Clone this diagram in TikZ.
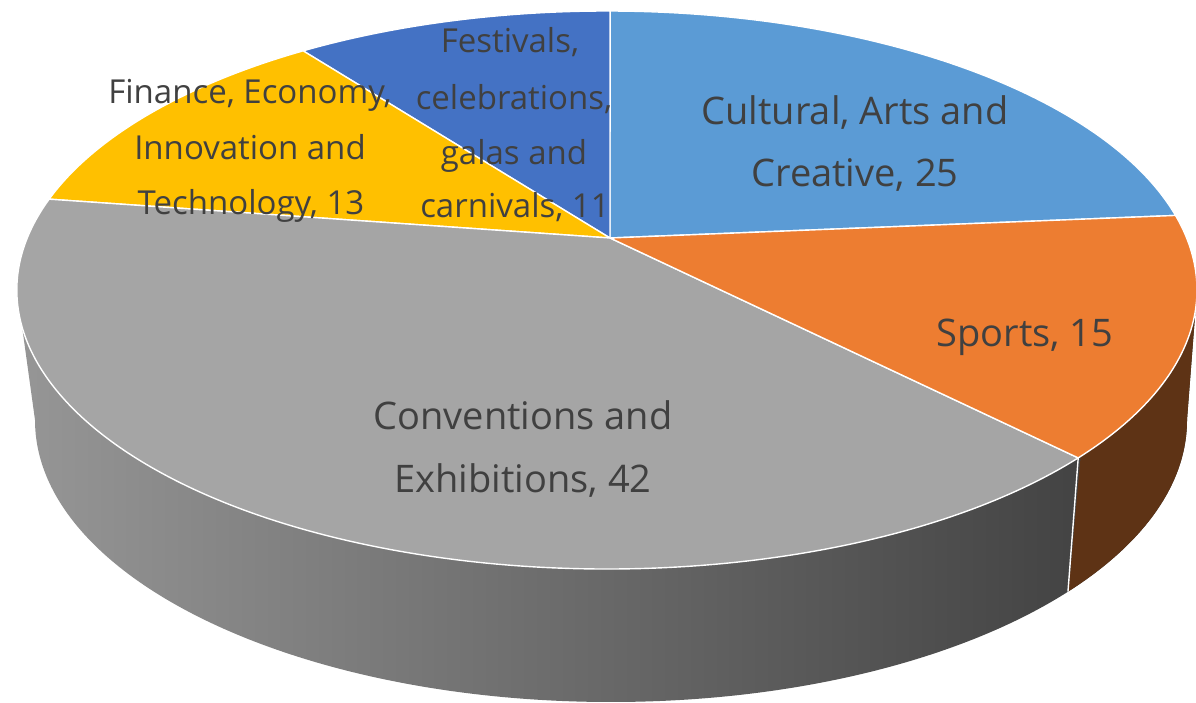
\documentclass[tikz,border=0pt]{standalone}
\usepackage{fontspec}
\setmainfont{Open Sans}
\definecolor{cA}{RGB}{91,155,213}
\definecolor{cB}{RGB}{237,125,49}
\definecolor{cC}{RGB}{165,165,165}
\definecolor{cD}{RGB}{255,192,0}
\definecolor{cE}{RGB}{68,114,196}
\definecolor{brownside}{RGB}{94,51,21}
\definecolor{sideL}{RGB}{150,150,150}
\definecolor{sideR}{RGB}{58,58,58}
\definecolor{txt}{RGB}{64,64,64}
\begin{document}
\begin{tikzpicture}[x=1pt,y=1pt,
  big/.style={font=\fontsize{38}{46}\selectfont, text=txt, anchor=base, inner sep=0pt},
  small/.style={font=\fontsize{33}{40}\selectfont, text=txt, anchor=base, inner sep=0pt},
  slice/.style={draw=white, line width=1.4pt, line join=round},
  edge/.style={draw=white, line width=1.4pt}]
\useasboundingbox (0,0) rectangle (1196,703);
\coordinate (O) at (610,465);
\coordinate (T) at (607,413);
\coordinate (B) at (611,283);
% side
\shade[left color=sideL, right color=sideR]
  (17,413) -- (35,283) arc[start angle=180, end angle=360, x radius=576pt, y radius=282pt]
  -- (1197,413) arc[start angle=0, end angle=-180, x radius=590pt, y radius=279pt] -- cycle;
\begin{scope}
\clip (17,413) -- (35,283) arc[start angle=180, end angle=360, x radius=576pt, y radius=282pt]
  -- (1197,413) arc[start angle=0, end angle=-180, x radius=590pt, y radius=279pt] -- cycle;
\fill[brownside] (1058,-5) -- (1099,450) -- (1210,450) -- (1210,-5) -- cycle;
\end{scope}
\coordinate (sTop) at ([shift={(T)}] -37:590pt and 279pt);
\coordinate (sBot) at ([shift={(B)}] -37.5:576pt and 282pt);
\draw[edge] (sTop) -- (sBot);
% top face
\filldraw[slice, fill=cA] (O) -- ([shift={(T)}] 15.5:590pt and 279pt)
  arc[start angle=15.5, end angle=89.7, x radius=590pt, y radius=279pt] -- cycle;
\filldraw[slice, fill=cE] (O) -- ([shift={(T)}] 89.7:590pt and 279pt)
  arc[start angle=89.7, end angle=121, x radius=590pt, y radius=279pt] -- cycle;
\filldraw[slice, fill=cD] (O) -- ([shift={(T)}] 121:590pt and 279pt)
  arc[start angle=121, end angle=161, x radius=590pt, y radius=279pt] -- cycle;
\filldraw[slice, fill=cC] (O) -- ([shift={(T)}] 161:590pt and 279pt)
  arc[start angle=161, end angle=323, x radius=590pt, y radius=279pt] -- cycle;
\filldraw[slice, fill=cB] (O) -- ([shift={(T)}] -37:590pt and 279pt)
  arc[start angle=-37, end angle=15.5, x radius=590pt, y radius=279pt] -- cycle;
% labels
\node[big] (cult1) at (855,578) {Cultural, Arts and};
\node[big] (cult2) at (855,516) {Creative, 25};
\node[big] (sport) at (1025,356) {Sports, 15};
\node[big] (conv1) at (523,273) {Conventions and};
\node[big] (conv2) at (523,210) {Exhibitions, 42};
\node[small] (fin1) at (250,599) {Finance, Economy,};
\node[small] (fin2) at (250,543) {Innovation and};
\node[small] (fin3) at (251,488) {Technology, 13};
\node[small] (fes1) at (510,650) {Festivals,};
\node[small] (fes2) at (514,593) {celebrations,};
\node[small] (fes3) at (514,538) {galas and};
\node[small] (fes4) at (515,485) {carnivals, 11};
\end{tikzpicture}
\end{document}
